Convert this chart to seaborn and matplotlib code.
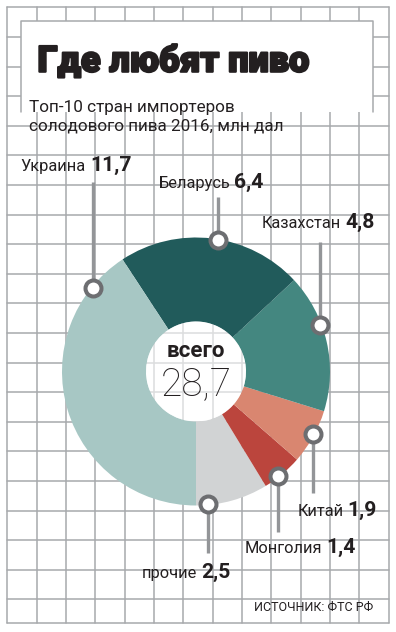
import numpy as np
import seaborn as sns
import matplotlib.pyplot as plt
import matplotlib.patheffects as pe

# данные
countries = ["прочие", "Монголия", "Китай", "Казахстан", "Беларусь", "Украина"]
values = [2.5, 1.4, 1.9, 4.8, 6.4, 11.7]
value_labels = ["2,5", "1,4", "1,9", "4,8", "6,4", "11,7"]
colors = ["#d1d3d4", "#bb453d", "#d98670", "#448780", "#215b5b", "#a7c7c4"]

title = "Где любят пиво"
subtitle = ["Топ-10 стран импортеров", "солодового пива 2016, млн дал"]
total_word = "всего"
source = "ИСТОЧНИК: ФТС РФ"

# раскладка подписей (пиксели картинки, y сверху вниз)
mark_frac = [0.17, 0.375, 0.55, 0.63, 0.47, 0.12]   # где точка на дуге сектора
label_x = [141.7, 245, 297.3, 261.7, 158.3, 20.7]
label_base = [578.3, 553.3, 516.3, 227.7, 188.3, 171]
line_end = [553, 531.7, 493, 241.7, 197, 181.7]

sns.set_theme(style="white")
plt.rcParams["font.family"] = ["Roboto", "DejaVu Sans"]

W, H = 396, 632
fig = plt.figure(figsize=(W / 100, H / 100), dpi=100)
ax = fig.add_axes([0, 0, 1, 1])


def Y(y):
    return H - y


# сетка как на миллиметровке
grid_c = "#a7a9ac"
gx = 7.3 + 29.34 * np.arange(14)
gy = list(7.3 + 29.6 * np.arange(21)) + [623.3]
for x in gx:
    ax.plot([x, x], [Y(7.3), Y(623.3)], color=grid_c, lw=1.1, zorder=0)
for y in gy:
    ax.plot([7.3, 388.7], [Y(y), Y(y)], color=grid_c, lw=1.1, zorder=0)

# белая плашка под заголовком
ax.add_patch(plt.Rectangle((20.7, Y(111.7)), 352.6, 90.7, facecolor="white",
                           edgecolor="none", zorder=1))
ax.plot([20.7, 20.7, 373.3, 373.3], [Y(111.7), Y(21), Y(21), Y(111.7)],
        color=grid_c, lw=1.1, zorder=1)

cx, cy, R = 196, Y(371.5), 134
wedges, _ = ax.pie(values, colors=colors, startangle=-90, counterclock=True,
                   radius=R, center=(cx, cy), frame=True,
                   wedgeprops=dict(width=84, linewidth=0))
for w in wedges:
    w.set_zorder(2)
ax.add_patch(plt.Circle((cx, cy), R - 84, facecolor="white", alpha=0.6,
                        edgecolor="none", zorder=2))

ax.set_xlim(0, W)
ax.set_ylim(0, H)
ax.axis("off")

fig.canvas.draw()
rend = fig.canvas.get_renderer()

for i, w in enumerate(wedges):
    ang = np.deg2rad(w.theta1 + mark_frac[i] * (w.theta2 - w.theta1))
    mx, my = cx + 133 * np.cos(ang), cy + 133 * np.sin(ang)
    ax.plot([mx, mx], [my, Y(line_end[i])], color="#939598", lw=2.4,
            solid_capstyle="butt", zorder=4)
    ax.plot(mx, my, "o", ms=11.5, mfc="white", mec="#6d6e71", mew=2.9, zorder=5)
    t = ax.text(label_x[i], Y(label_base[i]), countries[i], fontsize=11.8,
                color="#231f20", ha="left", va="baseline", zorder=6)
    bb = t.get_window_extent(rend)
    ax.text(bb.x1 + 4, Y(label_base[i]), value_labels[i], fontsize=15.2,
            fontweight="bold", color="#231f20", ha="left", va="baseline", zorder=6)

ax.text(cx, Y(356.7), total_word, fontsize=16, fontweight="bold",
        color="#231f20", ha="center", va="baseline", zorder=6)
total = f"{sum(values):.1f}".replace(".", ",")
ax.text(cx, Y(395), total, fontsize=28, fontweight="light",
        color="#231f20", ha="center", va="baseline", zorder=6)

ax.text(37.5, Y(71.7), title, fontsize=26, fontweight="black",
        color="#231f20", ha="left", va="baseline", zorder=6,
        path_effects=[pe.withStroke(linewidth=1.6, foreground="#231f20")])
ax.text(29, Y(112.3), subtitle[0], fontsize=12.3, color="#231f20",
        ha="left", va="baseline", zorder=6)
ax.text(29, Y(130.7), subtitle[1], fontsize=12.3, color="#231f20",
        ha="left", va="baseline", zorder=6)
ax.text(254, Y(611), source, fontsize=9, color="#231f20",
        ha="left", va="baseline", zorder=6)

fig.savefig("out.png", dpi=100)
